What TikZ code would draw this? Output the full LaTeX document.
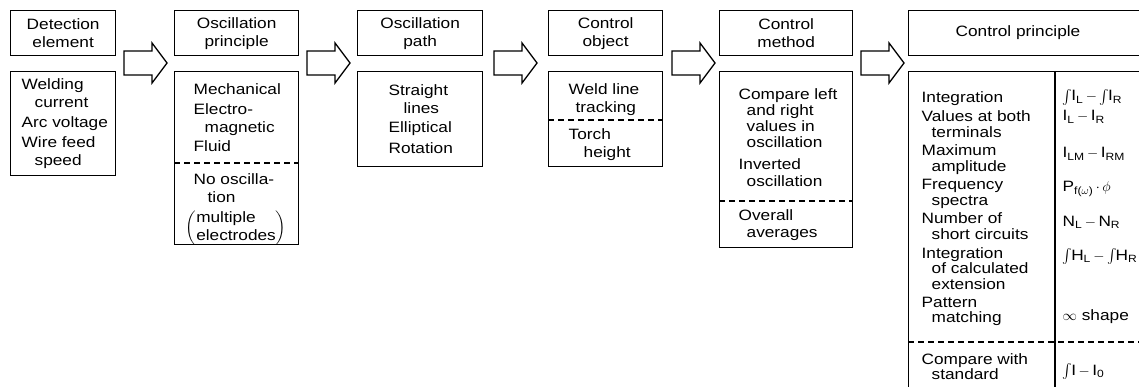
\documentclass[tikz,border=0pt]{standalone}
\usepackage{amsmath}
\usepackage{fontspec}
\setmainfont{Liberation Sans}[FakeStretch=1.15]
\newcommand{\intg}{{\fontsize{15}{15}\selectfont$\int$\kern-1pt}}

\tikzset{flowarrow/.pic={
  \draw[line join=miter] (0,-12) -- (28,-12) -- (28,-20) -- (43,0) -- (28,20) -- (28,12) -- (0,12) -- cycle;}}

\begin{document}
\begin{tikzpicture}[x=1pt,y=-1pt,line width=1.3pt,
  box/.style={draw,anchor=north west},
  hdr/.style={draw,anchor=north west,align=center,minimum height=45pt},
  item/.style={anchor=base west,align=left},
  itemsm/.style={item,font=\fontsize{15}{15.5}\selectfont},
  sep/.style={dash pattern=on 6pt off 4pt,line width=1.1pt}]
\tikzstyle{every node}+=[inner sep=0pt,font=\fontsize{15}{18}\selectfont]
\useasboundingbox (0,0) rectangle (1139,387);
\clip (0,0) rectangle (1139,387);
% headers
\node[hdr,minimum width=105pt] (h1) at (10,10) {Detection\\element};
\node[hdr,minimum width=124pt] (h2) at (174,10) {Oscillation\\principle};
\node[hdr,minimum width=125pt] (h3) at (357,10) {Oscillation\\path};
\node[hdr,minimum width=114pt] (h4) at (548,10) {Control\\object};
\node[hdr,minimum width=133pt] (h5) at (719,10) {Control\\method};
\node[hdr,minimum width=260pt] (h6) at (908,10) {};
\node (t6) at (1018,32.5) {Control principle};
% arrows
\pic (a1) at (124,63) {flowarrow};
\pic (a2) at (307,63) {flowarrow};
\pic (a3) at (494,63) {flowarrow};
\pic (a4) at (672,63) {flowarrow};
\pic (a5) at (861,63) {flowarrow};
% bodies
\node[box,minimum width=105pt,minimum height=104pt] (b1) at (10,71) {};
\node[box,minimum width=124pt,minimum height=173pt] (b2) at (174,71) {};
\node[box,minimum width=125pt,minimum height=95pt] (b3) at (357,71) {};
\node[box,minimum width=114pt,minimum height=95pt] (b4) at (548,71) {};
\node[box,minimum width=133pt,minimum height=176pt] (b5) at (719,71) {};
\node[box,minimum width=260pt,minimum height=340pt] (b6) at (908,71) {};
\draw[sep] (b2.west |- 0,163) -- (b2.east |- 0,163);
\draw[sep] (b4.west |- 0,120) -- (b4.east |- 0,120);
\draw[sep] (b5.west |- 0,201) -- (b5.east |- 0,201);
\draw[sep] (b6.west |- 0,342) -- (b6.east |- 0,342);
\draw (b6.north west) ++(147,0) coordinate (d6) -- (d6 |- b6.south);
% detection element (y = last baseline)
\node[item] (w1) at (21,108) {Welding\\\hspace*{13pt}current};
\node[item] (w2) at (21,128) {Arc voltage};
\node[item] (w3) at (21,166) {Wire feed\\\hspace*{13pt}speed};
% oscillation principle
\node[item] (m1) at (193,95) {Mechanical};
\node[item] (m2) at (193,133) {Electro-\\\hspace*{11pt}magnetic};
\node[item] (m3) at (193,152) {Fluid};
\node[item] (m4) at (193,203) {No oscilla-\\\hspace*{14pt}tion};
\node[anchor=west] (m5) at (185,228) {$\left(\begin{tabular}{@{}l@{}}multiple\\electrodes\end{tabular}\right)$};
% oscillation path
\node[item] (s1) at (388,114) {Straight\\\hspace*{15pt}lines};
\node[item] (s2) at (388,133) {Elliptical};
\node[item] (s3) at (388,154) {Rotation};
% control object
\node[item] (o1) at (568,113) {Weld line\\\hspace*{7pt}tracking};
\node[item] (o2) at (568,158) {Torch\\\hspace*{15pt}height};
% control method
\node[item,font=\fontsize{15}{16}\selectfont] (c1) at (738,148) {Compare left\\\hspace*{8pt}and right\\\hspace*{8pt}values in\\\hspace*{8pt}oscillation};
\node[item,font=\fontsize{15}{17}\selectfont] (c2) at (738,187) {Inverted\\\hspace*{8pt}oscillation};
\node[item,font=\fontsize{15}{17}\selectfont] (c3) at (738,237) {Overall\\\hspace*{8pt}averages};
% control principle
\node[itemsm] (p1) at (921,103) {Integration};
\node[itemsm] (p2) at (921,137.5) {Values at both\\\hspace*{10pt}terminals};
\node[itemsm] (p3) at (921,171.5) {Maximum\\\hspace*{10pt}amplitude};
\node[itemsm] (p4) at (921,205.5) {Frequency\\\hspace*{10pt}spectra};
\node[itemsm] (p5) at (921,239.5) {Number of\\\hspace*{10pt}short circuits};
\node[itemsm] (p6) at (921,289) {Integration\\\hspace*{10pt}of calculated\\\hspace*{10pt}extension};
\node[itemsm] (p7) at (921,322.5) {Pattern\\\hspace*{10pt}matching};
\node[itemsm] (p8) at (921,379.5) {Compare with\\\hspace*{10pt}standard};
\node[item] (f1) at (1062,101) {\intg I\textsubscript{L}\,$-$\,\intg I\textsubscript{R}};
\node[item] (f2) at (1062,121) {I\textsubscript{L}\,$-$\,I\textsubscript{R}};
\node[item] (f3) at (1062,158) {I\textsubscript{LM}\,$-$\,I\textsubscript{RM}};
\node[item] (f4) at (1062,192) {P\textsubscript{f($\omega$)}\,$\cdot$\,$\phi$};
\node[item] (f5) at (1062,226) {N\textsubscript{L}\,$-$\,N\textsubscript{R}};
\node[item] (f6) at (1062,260) {\intg H\textsubscript{L}\,$-$\,\intg H\textsubscript{R}};
\node[item] (f7) at (1062,320) {$\infty$ shape};
\node[item] (f8) at (1062,375) {\intg I\,$-$\,I\textsubscript{0}};
\end{tikzpicture}
\end{document}
